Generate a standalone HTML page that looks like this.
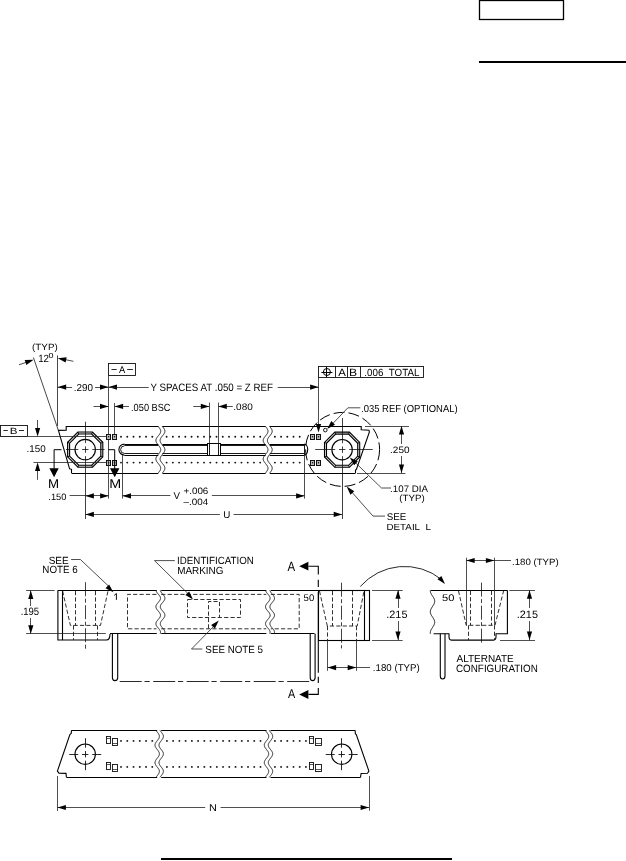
<!DOCTYPE html>
<html><head><meta charset="utf-8"><style>
html,body{margin:0;padding:0;background:#fff;}
body{width:626px;height:861px;overflow:hidden;}
svg{display:block;will-change:transform;}
text{font-family:"Liberation Sans",sans-serif;text-rendering:geometricPrecision;}
</style></head><body>
<svg width="626" height="861" viewBox="0 0 626 861">
<rect x="479.5" y="0.5" width="84" height="19" stroke="#000" stroke-width="1.3" fill="none"/>
<rect x="479" y="61" width="147" height="2" fill="#000"/>
<rect x="161" y="858" width="291" height="2" fill="#000"/>
<line x1="66.2" y1="426.5" x2="158.3" y2="426.5" stroke="#000" stroke-width="1.1" fill="none"/>
<line x1="162.5" y1="426.5" x2="265.6" y2="426.5" stroke="#000" stroke-width="1.1" fill="none"/>
<line x1="269.8" y1="426.5" x2="361.2" y2="426.5" stroke="#000" stroke-width="1.1" fill="none"/>
<line x1="71.5" y1="473.5" x2="158.3" y2="473.5" stroke="#000" stroke-width="1.1" fill="none"/>
<line x1="162.5" y1="473.5" x2="265.6" y2="473.5" stroke="#000" stroke-width="1.1" fill="none"/>
<line x1="269.8" y1="473.5" x2="355.5" y2="473.5" stroke="#000" stroke-width="1.1" fill="none"/>
<path d="M66.2,426.1 L66.2,430.2 L58.4,430.4 L69.6,468.8 L71.5,469.3 L71.5,473.1" stroke="#000" stroke-width="1.1" fill="none"/>
<path d="M361.2,426.1 L361.2,429.8 L369,430.2 L369.4,432 L356.4,469.4 L355.5,470 L355.5,473.1" stroke="#000" stroke-width="1.1" fill="none"/>
<path d="M157.89,426.1 L158.3,426.6 L158.71,427.1 L159.1,427.6 L159.47,428.1 L159.81,428.6 L160.1,429.1 L160.34,429.6 L160.53,430.1 L160.65,430.6 L160.7,431.1 L160.68,431.6 L160.59,432.1 L160.44,432.6 L160.23,433.1 L159.96,433.6 L159.64,434.1 L159.29,434.6 L158.9,435.1 L158.5,435.6 L158.1,436.1 L157.7,436.6 L157.31,437.1 L156.96,437.6 L156.64,438.1 L156.37,438.6 L156.16,439.1 L156.01,439.6 L155.92,440.1 L155.9,440.6 L155.95,441.1 L156.07,441.6 L156.26,442.1 L156.5,442.6 L156.79,443.1 L157.13,443.6 L157.5,444.1 L157.89,444.6 L158.3,445.1 L158.71,445.6 L159.1,446.1 L159.47,446.6 L159.81,447.1 L160.1,447.6 L160.34,448.1 L160.53,448.6 L160.65,449.1 L160.7,449.6 L160.68,450.1 L160.59,450.6 L160.44,451.1 L160.23,451.6 L159.96,452.1 L159.64,452.6 L159.29,453.1 L158.9,453.6 L158.5,454.1 L158.1,454.6 L157.7,455.1 L157.31,455.6 L156.96,456.1 L156.64,456.6 L156.37,457.1 L156.16,457.6 L156.01,458.1 L155.92,458.6 L155.9,459.1 L155.95,459.6 L156.07,460.1 L156.26,460.6 L156.5,461.1 L156.79,461.6 L157.13,462.1 L157.5,462.6 L157.89,463.1 L158.3,463.6 L158.71,464.1 L159.1,464.6 L159.47,465.1 L159.81,465.6 L160.1,466.1 L160.34,466.6 L160.53,467.1 L160.65,467.6 L160.7,468.1 L160.68,468.6 L160.59,469.1 L160.44,469.6 L160.23,470.1 L159.96,470.6 L159.64,471.1 L159.29,471.6 L158.9,472.1 L158.5,472.6 L158.1,473.1" stroke="#1a1a1a" stroke-width="0.95" fill="none"/>
<path d="M162.09,426.1 L162.5,426.6 L162.91,427.1 L163.3,427.6 L163.67,428.1 L164.01,428.6 L164.3,429.1 L164.54,429.6 L164.73,430.1 L164.85,430.6 L164.9,431.1 L164.88,431.6 L164.79,432.1 L164.64,432.6 L164.43,433.1 L164.16,433.6 L163.84,434.1 L163.49,434.6 L163.1,435.1 L162.7,435.6 L162.3,436.1 L161.9,436.6 L161.51,437.1 L161.16,437.6 L160.84,438.1 L160.57,438.6 L160.36,439.1 L160.21,439.6 L160.12,440.1 L160.1,440.6 L160.15,441.1 L160.27,441.6 L160.46,442.1 L160.7,442.6 L160.99,443.1 L161.33,443.6 L161.7,444.1 L162.09,444.6 L162.5,445.1 L162.91,445.6 L163.3,446.1 L163.67,446.6 L164.01,447.1 L164.3,447.6 L164.54,448.1 L164.73,448.6 L164.85,449.1 L164.9,449.6 L164.88,450.1 L164.79,450.6 L164.64,451.1 L164.43,451.6 L164.16,452.1 L163.84,452.6 L163.49,453.1 L163.1,453.6 L162.7,454.1 L162.3,454.6 L161.9,455.1 L161.51,455.6 L161.16,456.1 L160.84,456.6 L160.57,457.1 L160.36,457.6 L160.21,458.1 L160.12,458.6 L160.1,459.1 L160.15,459.6 L160.27,460.1 L160.46,460.6 L160.7,461.1 L160.99,461.6 L161.33,462.1 L161.7,462.6 L162.09,463.1 L162.5,463.6 L162.91,464.1 L163.3,464.6 L163.67,465.1 L164.01,465.6 L164.3,466.1 L164.54,466.6 L164.73,467.1 L164.85,467.6 L164.9,468.1 L164.88,468.6 L164.79,469.1 L164.64,469.6 L164.43,470.1 L164.16,470.6 L163.84,471.1 L163.49,471.6 L163.1,472.1 L162.7,472.6 L162.3,473.1" stroke="#1a1a1a" stroke-width="0.95" fill="none"/>
<path d="M265.19,426.1 L265.6,426.6 L266.01,427.1 L266.4,427.6 L266.77,428.1 L267.11,428.6 L267.4,429.1 L267.64,429.6 L267.83,430.1 L267.95,430.6 L268,431.1 L267.98,431.6 L267.89,432.1 L267.74,432.6 L267.53,433.1 L267.26,433.6 L266.94,434.1 L266.59,434.6 L266.2,435.1 L265.8,435.6 L265.4,436.1 L265,436.6 L264.61,437.1 L264.26,437.6 L263.94,438.1 L263.67,438.6 L263.46,439.1 L263.31,439.6 L263.22,440.1 L263.2,440.6 L263.25,441.1 L263.37,441.6 L263.56,442.1 L263.8,442.6 L264.09,443.1 L264.43,443.6 L264.8,444.1 L265.19,444.6 L265.6,445.1 L266.01,445.6 L266.4,446.1 L266.77,446.6 L267.11,447.1 L267.4,447.6 L267.64,448.1 L267.83,448.6 L267.95,449.1 L268,449.6 L267.98,450.1 L267.89,450.6 L267.74,451.1 L267.53,451.6 L267.26,452.1 L266.94,452.6 L266.59,453.1 L266.2,453.6 L265.8,454.1 L265.4,454.6 L265,455.1 L264.61,455.6 L264.26,456.1 L263.94,456.6 L263.67,457.1 L263.46,457.6 L263.31,458.1 L263.22,458.6 L263.2,459.1 L263.25,459.6 L263.37,460.1 L263.56,460.6 L263.8,461.1 L264.09,461.6 L264.43,462.1 L264.8,462.6 L265.19,463.1 L265.6,463.6 L266.01,464.1 L266.4,464.6 L266.77,465.1 L267.11,465.6 L267.4,466.1 L267.64,466.6 L267.83,467.1 L267.95,467.6 L268,468.1 L267.98,468.6 L267.89,469.1 L267.74,469.6 L267.53,470.1 L267.26,470.6 L266.94,471.1 L266.59,471.6 L266.2,472.1 L265.8,472.6 L265.4,473.1" stroke="#1a1a1a" stroke-width="0.95" fill="none"/>
<path d="M269.39,426.1 L269.8,426.6 L270.21,427.1 L270.6,427.6 L270.97,428.1 L271.31,428.6 L271.6,429.1 L271.84,429.6 L272.03,430.1 L272.15,430.6 L272.2,431.1 L272.18,431.6 L272.09,432.1 L271.94,432.6 L271.73,433.1 L271.46,433.6 L271.14,434.1 L270.79,434.6 L270.4,435.1 L270,435.6 L269.6,436.1 L269.2,436.6 L268.81,437.1 L268.46,437.6 L268.14,438.1 L267.87,438.6 L267.66,439.1 L267.51,439.6 L267.42,440.1 L267.4,440.6 L267.45,441.1 L267.57,441.6 L267.76,442.1 L268,442.6 L268.29,443.1 L268.63,443.6 L269,444.1 L269.39,444.6 L269.8,445.1 L270.21,445.6 L270.6,446.1 L270.97,446.6 L271.31,447.1 L271.6,447.6 L271.84,448.1 L272.03,448.6 L272.15,449.1 L272.2,449.6 L272.18,450.1 L272.09,450.6 L271.94,451.1 L271.73,451.6 L271.46,452.1 L271.14,452.6 L270.79,453.1 L270.4,453.6 L270,454.1 L269.6,454.6 L269.2,455.1 L268.81,455.6 L268.46,456.1 L268.14,456.6 L267.87,457.1 L267.66,457.6 L267.51,458.1 L267.42,458.6 L267.4,459.1 L267.45,459.6 L267.57,460.1 L267.76,460.6 L268,461.1 L268.29,461.6 L268.63,462.1 L269,462.6 L269.39,463.1 L269.8,463.6 L270.21,464.1 L270.6,464.6 L270.97,465.1 L271.31,465.6 L271.6,466.1 L271.84,466.6 L272.03,467.1 L272.15,467.6 L272.2,468.1 L272.18,468.6 L272.09,469.1 L271.94,469.6 L271.73,470.1 L271.46,470.6 L271.14,471.1 L270.79,471.6 L270.4,472.1 L270,472.6 L269.6,473.1" stroke="#1a1a1a" stroke-width="0.95" fill="none"/>
<path d="M102.8,456.89 L92.49,467.2 L77.91,467.2 L67.6,456.89 L67.6,442.31 L77.91,432 L92.49,432 L102.8,442.31Z M100.8,456.06 L91.66,465.2 L78.74,465.2 L69.6,456.06 L69.6,443.14 L78.74,434 L91.66,434 L100.8,443.14Z" fill="#d8d8d8" fill-rule="evenodd" stroke="none"/>
<path d="M102.8,456.89 L92.49,467.2 L77.91,467.2 L67.6,456.89 L67.6,442.31 L77.91,432 L92.49,432 L102.8,442.31Z" stroke="#000" stroke-width="1.1" fill="none"/>
<path d="M100.8,456.06 L91.66,465.2 L78.74,465.2 L69.6,456.06 L69.6,443.14 L78.74,434 L91.66,434 L100.8,443.14Z" stroke="#000" stroke-width="1.1" fill="none"/>
<line x1="102.8" y1="456.89" x2="100.8" y2="456.06" stroke="#000" stroke-width="0.9"/>
<line x1="92.49" y1="467.2" x2="91.66" y2="465.2" stroke="#000" stroke-width="0.9"/>
<line x1="77.91" y1="467.2" x2="78.74" y2="465.2" stroke="#000" stroke-width="0.9"/>
<line x1="67.6" y1="456.89" x2="69.6" y2="456.06" stroke="#000" stroke-width="0.9"/>
<line x1="67.6" y1="442.31" x2="69.6" y2="443.14" stroke="#000" stroke-width="0.9"/>
<line x1="77.91" y1="432" x2="78.74" y2="434" stroke="#000" stroke-width="0.9"/>
<line x1="92.49" y1="432" x2="91.66" y2="434" stroke="#000" stroke-width="0.9"/>
<line x1="102.8" y1="442.31" x2="100.8" y2="443.14" stroke="#000" stroke-width="0.9"/>
<circle cx="85.2" cy="449.6" r="10.2" stroke="#000" stroke-width="1.1" fill="none"/>
<path d="M359.7,456.99 L349.39,467.3 L334.81,467.3 L324.5,456.99 L324.5,442.41 L334.81,432.1 L349.39,432.1 L359.7,442.41Z M357.7,456.16 L348.56,465.3 L335.64,465.3 L326.5,456.16 L326.5,443.24 L335.64,434.1 L348.56,434.1 L357.7,443.24Z" fill="#d8d8d8" fill-rule="evenodd" stroke="none"/>
<path d="M359.7,456.99 L349.39,467.3 L334.81,467.3 L324.5,456.99 L324.5,442.41 L334.81,432.1 L349.39,432.1 L359.7,442.41Z" stroke="#000" stroke-width="1.1" fill="none"/>
<path d="M357.7,456.16 L348.56,465.3 L335.64,465.3 L326.5,456.16 L326.5,443.24 L335.64,434.1 L348.56,434.1 L357.7,443.24Z" stroke="#000" stroke-width="1.1" fill="none"/>
<line x1="359.7" y1="456.99" x2="357.7" y2="456.16" stroke="#000" stroke-width="0.9"/>
<line x1="349.39" y1="467.3" x2="348.56" y2="465.3" stroke="#000" stroke-width="0.9"/>
<line x1="334.81" y1="467.3" x2="335.64" y2="465.3" stroke="#000" stroke-width="0.9"/>
<line x1="324.5" y1="456.99" x2="326.5" y2="456.16" stroke="#000" stroke-width="0.9"/>
<line x1="324.5" y1="442.41" x2="326.5" y2="443.24" stroke="#000" stroke-width="0.9"/>
<line x1="334.81" y1="432.1" x2="335.64" y2="434.1" stroke="#000" stroke-width="0.9"/>
<line x1="349.39" y1="432.1" x2="348.56" y2="434.1" stroke="#000" stroke-width="0.9"/>
<line x1="359.7" y1="442.41" x2="357.7" y2="443.24" stroke="#000" stroke-width="0.9"/>
<circle cx="342.1" cy="449.7" r="10.2" stroke="#000" stroke-width="1.1" fill="none"/>
<line x1="85.5" y1="421.7" x2="85.5" y2="443.1" stroke="#111" stroke-width="0.8"/>
<line x1="85.5" y1="446.4" x2="85.5" y2="452.8" stroke="#111" stroke-width="0.8"/>
<line x1="85.5" y1="456.1" x2="85.5" y2="519" stroke="#111" stroke-width="0.8"/>
<line x1="66" y1="449.5" x2="78.3" y2="449.5" stroke="#111" stroke-width="0.8"/>
<line x1="82.1" y1="449.5" x2="88.5" y2="449.5" stroke="#111" stroke-width="0.8"/>
<line x1="92.3" y1="449.5" x2="104.6" y2="449.5" stroke="#111" stroke-width="0.8"/>
<line x1="342.5" y1="418" x2="342.5" y2="443.2" stroke="#111" stroke-width="0.8"/>
<line x1="342.5" y1="446.5" x2="342.5" y2="452.9" stroke="#111" stroke-width="0.8"/>
<line x1="342.5" y1="456.2" x2="342.5" y2="519" stroke="#111" stroke-width="0.8"/>
<line x1="315.2" y1="449.5" x2="335.2" y2="449.5" stroke="#111" stroke-width="0.8"/>
<line x1="339" y1="449.5" x2="345.4" y2="449.5" stroke="#111" stroke-width="0.8"/>
<line x1="349.2" y1="449.5" x2="372.7" y2="449.5" stroke="#111" stroke-width="0.8"/>
<line x1="124.4" y1="444.5" x2="158.3" y2="444.5" stroke="#000" stroke-width="1.1" fill="none"/>
<line x1="162.5" y1="444.5" x2="265.6" y2="444.5" stroke="#000" stroke-width="1.1" fill="none"/>
<line x1="269.8" y1="444.5" x2="304.4" y2="444.5" stroke="#000" stroke-width="1.1" fill="none"/>
<line x1="124.4" y1="455.5" x2="158.3" y2="455.5" stroke="#000" stroke-width="1.1" fill="none"/>
<line x1="162.5" y1="455.5" x2="265.6" y2="455.5" stroke="#000" stroke-width="1.1" fill="none"/>
<line x1="269.8" y1="455.5" x2="304.4" y2="455.5" stroke="#000" stroke-width="1.1" fill="none"/>
<line x1="124.4" y1="445.5" x2="158.3" y2="445.5" stroke="#000" stroke-width="0.9" fill="none"/>
<line x1="162.5" y1="445.5" x2="265.6" y2="445.5" stroke="#000" stroke-width="0.9" fill="none"/>
<line x1="269.8" y1="445.5" x2="304.4" y2="445.5" stroke="#000" stroke-width="0.9" fill="none"/>
<line x1="124.4" y1="453.5" x2="158.3" y2="453.5" stroke="#000" stroke-width="0.9" fill="none"/>
<line x1="162.5" y1="453.5" x2="265.6" y2="453.5" stroke="#000" stroke-width="0.9" fill="none"/>
<line x1="269.8" y1="453.5" x2="304.4" y2="453.5" stroke="#000" stroke-width="0.9" fill="none"/>
<path d="M124.4,444.1 A5.5,5.5 0 0 0 124.4,455.1" stroke="#000" stroke-width="1.1" fill="none"/>
<path d="M124.4,445.9 A3.75,3.75 0 0 0 124.4,453.4" stroke="#000" stroke-width="0.9" fill="none"/>
<path d="M304.4,444.1 A3.3,5.5 0 0 1 304.4,455.1" stroke="#000" stroke-width="1.1" fill="none"/>
<line x1="304.5" y1="444.1" x2="304.5" y2="455.1" stroke="#000" stroke-width="0.9"/>
<rect x="207.5" y="443.5" width="13" height="12" stroke="#000" stroke-width="1" fill="#fff"/>
<line x1="209.5" y1="443.9" x2="209.5" y2="455.2" stroke="#000" stroke-width="0.9"/>
<line x1="218.5" y1="443.9" x2="218.5" y2="455.2" stroke="#000" stroke-width="0.9"/>
<circle cx="121" cy="436.8" r="0.95" fill="#111"/>
<circle cx="127.26" cy="436.8" r="0.95" fill="#111"/>
<circle cx="133.52" cy="436.8" r="0.95" fill="#111"/>
<circle cx="139.78" cy="436.8" r="0.95" fill="#111"/>
<circle cx="146.04" cy="436.8" r="0.95" fill="#111"/>
<circle cx="152.3" cy="436.8" r="0.95" fill="#111"/>
<circle cx="166.6" cy="436.8" r="0.95" fill="#111"/>
<circle cx="172.84" cy="436.8" r="0.95" fill="#111"/>
<circle cx="179.08" cy="436.8" r="0.95" fill="#111"/>
<circle cx="185.32" cy="436.8" r="0.95" fill="#111"/>
<circle cx="191.56" cy="436.8" r="0.95" fill="#111"/>
<circle cx="197.8" cy="436.8" r="0.95" fill="#111"/>
<circle cx="204.04" cy="436.8" r="0.95" fill="#111"/>
<circle cx="210.28" cy="436.8" r="0.95" fill="#111"/>
<circle cx="216.52" cy="436.8" r="0.95" fill="#111"/>
<circle cx="222.76" cy="436.8" r="0.95" fill="#111"/>
<circle cx="229" cy="436.8" r="0.95" fill="#111"/>
<circle cx="235.24" cy="436.8" r="0.95" fill="#111"/>
<circle cx="241.48" cy="436.8" r="0.95" fill="#111"/>
<circle cx="247.72" cy="436.8" r="0.95" fill="#111"/>
<circle cx="253.96" cy="436.8" r="0.95" fill="#111"/>
<circle cx="260.2" cy="436.8" r="0.95" fill="#111"/>
<circle cx="274.9" cy="436.8" r="0.95" fill="#111"/>
<circle cx="281.1" cy="436.8" r="0.95" fill="#111"/>
<circle cx="287.3" cy="436.8" r="0.95" fill="#111"/>
<circle cx="293.5" cy="436.8" r="0.95" fill="#111"/>
<circle cx="299.7" cy="436.8" r="0.95" fill="#111"/>
<circle cx="121" cy="462.6" r="0.95" fill="#111"/>
<circle cx="127.26" cy="462.6" r="0.95" fill="#111"/>
<circle cx="133.52" cy="462.6" r="0.95" fill="#111"/>
<circle cx="139.78" cy="462.6" r="0.95" fill="#111"/>
<circle cx="146.04" cy="462.6" r="0.95" fill="#111"/>
<circle cx="152.3" cy="462.6" r="0.95" fill="#111"/>
<circle cx="166.6" cy="462.6" r="0.95" fill="#111"/>
<circle cx="172.84" cy="462.6" r="0.95" fill="#111"/>
<circle cx="179.08" cy="462.6" r="0.95" fill="#111"/>
<circle cx="185.32" cy="462.6" r="0.95" fill="#111"/>
<circle cx="191.56" cy="462.6" r="0.95" fill="#111"/>
<circle cx="197.8" cy="462.6" r="0.95" fill="#111"/>
<circle cx="204.04" cy="462.6" r="0.95" fill="#111"/>
<circle cx="210.28" cy="462.6" r="0.95" fill="#111"/>
<circle cx="216.52" cy="462.6" r="0.95" fill="#111"/>
<circle cx="222.76" cy="462.6" r="0.95" fill="#111"/>
<circle cx="229" cy="462.6" r="0.95" fill="#111"/>
<circle cx="235.24" cy="462.6" r="0.95" fill="#111"/>
<circle cx="241.48" cy="462.6" r="0.95" fill="#111"/>
<circle cx="247.72" cy="462.6" r="0.95" fill="#111"/>
<circle cx="253.96" cy="462.6" r="0.95" fill="#111"/>
<circle cx="260.2" cy="462.6" r="0.95" fill="#111"/>
<circle cx="274.9" cy="462.6" r="0.95" fill="#111"/>
<circle cx="281.1" cy="462.6" r="0.95" fill="#111"/>
<circle cx="287.3" cy="462.6" r="0.95" fill="#111"/>
<circle cx="293.5" cy="462.6" r="0.95" fill="#111"/>
<circle cx="299.7" cy="462.6" r="0.95" fill="#111"/>
<rect x="106.5" y="434.5" width="4" height="5" stroke="#111" stroke-width="1" fill="#bbb"/>
<circle cx="108.6" cy="436.8" r="0.75" fill="#111"/>
<rect x="112.5" y="434.5" width="4" height="5" stroke="#111" stroke-width="1" fill="#bbb"/>
<circle cx="114.5" cy="436.8" r="0.75" fill="#111"/>
<rect x="106.5" y="460.5" width="4" height="5" stroke="#111" stroke-width="1" fill="#bbb"/>
<circle cx="108.6" cy="462.8" r="0.75" fill="#111"/>
<rect x="112.5" y="460.5" width="4" height="5" stroke="#111" stroke-width="1" fill="#bbb"/>
<circle cx="114.5" cy="462.8" r="0.75" fill="#111"/>
<rect x="310.5" y="434.5" width="4" height="5" stroke="#111" stroke-width="1" fill="#bbb"/>
<circle cx="312.6" cy="436.8" r="0.75" fill="#111"/>
<rect x="316.5" y="434.5" width="4" height="5" stroke="#111" stroke-width="1" fill="#bbb"/>
<circle cx="318.5" cy="436.8" r="0.75" fill="#111"/>
<rect x="310.5" y="460.5" width="4" height="5" stroke="#111" stroke-width="1" fill="#bbb"/>
<circle cx="312.6" cy="462.8" r="0.75" fill="#111"/>
<rect x="316.5" y="460.5" width="4" height="5" stroke="#111" stroke-width="1" fill="#bbb"/>
<circle cx="318.5" cy="462.8" r="0.75" fill="#111"/>
<circle cx="325.3" cy="430.1" r="1.8" stroke="#000" stroke-width="0.9" fill="none"/>
<circle cx="342.6" cy="449.4" r="37" stroke="#000" stroke-width="1" fill="none" stroke-dasharray="11,4"/>
<rect x="0.5" y="425.5" width="27" height="11" stroke="#111" stroke-width="0.9" fill="none"/>
<line x1="3.4" y1="430.5" x2="7.8" y2="430.5" stroke="#111" stroke-width="0.9"/>
<line x1="19" y1="430.5" x2="24" y2="430.5" stroke="#111" stroke-width="0.9"/>
<text x="9.67" y="434.1" font-size="8.99" textLength="7.73" lengthAdjust="spacingAndGlyphs" fill="#000">B</text>
<line x1="27.7" y1="436.5" x2="106.3" y2="436.5" stroke="#222" stroke-width="0.8" fill="none"/>
<line x1="33.5" y1="462.5" x2="106.3" y2="462.5" stroke="#222" stroke-width="0.8" fill="none"/>
<line x1="37.5" y1="420" x2="37.5" y2="430" stroke="#222" stroke-width="0.8" fill="none"/>
<path d="M37.6,436.6 L35,428.1 L40.2,428.1Z" fill="#000"/>
<line x1="37.5" y1="479.8" x2="37.5" y2="470" stroke="#222" stroke-width="0.8" fill="none"/>
<path d="M37.6,462.6 L40.2,471.1 L35,471.1Z" fill="#000"/>
<text x="26.51" y="451.9" font-size="9.71" textLength="19.14" lengthAdjust="spacingAndGlyphs" fill="#000">.150</text>
<path d="M61.5,449.7 L54.1,449.7 L54.1,469" stroke="#000" stroke-width="1" fill="none"/>
<path d="M49.4,468.2 L58.7,468.2 L54.1,477.2Z" fill="#000"/>
<text x="48.14" y="487.6" font-size="12.9" textLength="11.07" lengthAdjust="spacingAndGlyphs" fill="#000">M</text>
<path d="M108.3,449.7 L114.7,449.7 L114.7,469" stroke="#000" stroke-width="1" fill="none"/>
<path d="M110,468.2 L119.4,468.2 L114.7,477.2Z" fill="#000"/>
<text x="109.15" y="487.6" font-size="12.9" textLength="11.94" lengthAdjust="spacingAndGlyphs" fill="#000">M</text>
<line x1="108.5" y1="439.5" x2="108.5" y2="498.6" stroke="#222" stroke-width="0.8" fill="none"/>
<line x1="122.5" y1="455.1" x2="122.5" y2="498.6" stroke="#222" stroke-width="0.8" fill="none"/>
<line x1="69.6" y1="495.5" x2="108.6" y2="495.5" stroke="#222" stroke-width="0.8" fill="none"/>
<path d="M85.4,495.9 L93.9,493.3 L93.9,498.5Z" fill="#000"/>
<path d="M108.6,495.9 L100.1,498.5 L100.1,493.3Z" fill="#000"/>
<text x="48.37" y="499.6" font-size="9.28" textLength="17.97" lengthAdjust="spacingAndGlyphs" fill="#000">.150</text>
<line x1="122.5" y1="495.5" x2="170.4" y2="495.5" stroke="#222" stroke-width="0.8" fill="none"/>
<path d="M122.5,495.9 L131,493.3 L131,498.5Z" fill="#000"/>
<line x1="211.9" y1="495.5" x2="304.6" y2="495.5" stroke="#222" stroke-width="0.8" fill="none"/>
<path d="M304.6,495.9 L296.1,498.5 L296.1,493.3Z" fill="#000"/>
<line x1="304.5" y1="455.1" x2="304.5" y2="498.6" stroke="#222" stroke-width="0.8" fill="none"/>
<text x="173.55" y="499.2" font-size="9.71" textLength="6.52" lengthAdjust="spacingAndGlyphs" fill="#000">V</text>
<text x="183.51" y="493.6" font-size="9.28" textLength="24.78" lengthAdjust="spacingAndGlyphs" fill="#000">+.006</text>
<text x="183.6" y="504.8" font-size="9.28" textLength="24.62" lengthAdjust="spacingAndGlyphs" fill="#000">&#8211;.004</text>
<line x1="85.4" y1="514.5" x2="219.9" y2="514.5" stroke="#222" stroke-width="0.8" fill="none"/>
<path d="M85.4,514.4 L93.9,511.8 L93.9,517Z" fill="#000"/>
<line x1="233.5" y1="514.5" x2="342.2" y2="514.5" stroke="#222" stroke-width="0.8" fill="none"/>
<path d="M342.2,514.4 L333.7,517 L333.7,511.8Z" fill="#000"/>
<text x="223.16" y="518" font-size="9.86" textLength="7.1" lengthAdjust="spacingAndGlyphs" fill="#000">U</text>
<line x1="19" y1="364.8" x2="30" y2="361" stroke="#222" stroke-width="0.8" fill="none"/>
<path d="M33.6,359.8 L26.34,364.92 L24.71,359.98Z" fill="#000"/>
<line x1="33.4" y1="357.5" x2="58.4" y2="430.4" stroke="#333" stroke-width="0.9"/>
<line x1="57.5" y1="355.4" x2="57.5" y2="426.1" stroke="#333" stroke-width="0.9"/>
<line x1="73.4" y1="361.3" x2="64" y2="359.4" stroke="#222" stroke-width="0.8" fill="none"/>
<path d="M57.8,358.2 L66.64,357.31 L65.63,362.41Z" fill="#000"/>
<text x="32.11" y="350.3" font-size="9.13" textLength="25.59" lengthAdjust="spacingAndGlyphs" fill="#000">(TYP)</text>
<text x="38.17" y="361.6" font-size="10.43" textLength="10.84" lengthAdjust="spacingAndGlyphs" fill="#000">12</text>
<text x="48.64" y="358.2" font-size="7.34" textLength="4.98" lengthAdjust="spacingAndGlyphs" fill="#000">0</text>
<line x1="57.7" y1="387.5" x2="72" y2="387.5" stroke="#222" stroke-width="0.8" fill="none"/>
<path d="M57.7,387.1 L66.2,384.5 L66.2,389.7Z" fill="#000"/>
<text x="73.81" y="391" font-size="10.17" textLength="19.25" lengthAdjust="spacingAndGlyphs" fill="#000">.290</text>
<line x1="95.1" y1="387.5" x2="108.5" y2="387.5" stroke="#222" stroke-width="0.8" fill="none"/>
<path d="M108.5,387.1 L100,389.7 L100,384.5Z" fill="#000"/>
<path d="M108.5,387.1 L117,384.5 L117,389.7Z" fill="#000"/>
<line x1="108.5" y1="387.5" x2="148.7" y2="387.5" stroke="#222" stroke-width="0.8" fill="none"/>
<text x="150.56" y="391.2" font-size="10.72" textLength="122.44" lengthAdjust="spacingAndGlyphs" fill="#000">Y SPACES AT .050 = Z REF</text>
<line x1="277.7" y1="387.5" x2="318.6" y2="387.5" stroke="#222" stroke-width="0.8" fill="none"/>
<path d="M318.6,387.1 L310.1,389.7 L310.1,384.5Z" fill="#000"/>
<rect x="108.5" y="363.5" width="27" height="12" stroke="#111" stroke-width="0.9" fill="none"/>
<line x1="111.5" y1="369.5" x2="116.7" y2="369.5" stroke="#111" stroke-width="0.9"/>
<line x1="127.2" y1="369.5" x2="132.9" y2="369.5" stroke="#111" stroke-width="0.9"/>
<text x="119" y="373" font-size="9.71" textLength="6.22" lengthAdjust="spacingAndGlyphs" fill="#000">A</text>
<line x1="108.5" y1="375.4" x2="108.5" y2="434.3" stroke="#222" stroke-width="0.8" fill="none"/>
<line x1="93.5" y1="406.5" x2="108.5" y2="406.5" stroke="#222" stroke-width="0.8" fill="none"/>
<path d="M108.5,406.4 L100,409 L100,403.8Z" fill="#000"/>
<line x1="114.5" y1="403" x2="114.5" y2="434.3" stroke="#222" stroke-width="0.8" fill="none"/>
<line x1="114.6" y1="406.5" x2="129" y2="406.5" stroke="#222" stroke-width="0.8" fill="none"/>
<path d="M114.6,406.4 L123.1,403.8 L123.1,409Z" fill="#000"/>
<text x="131.07" y="410.7" font-size="10.29" textLength="39.46" lengthAdjust="spacingAndGlyphs" fill="#000">.050 BSC</text>
<line x1="209.5" y1="402.6" x2="209.5" y2="443.9" stroke="#222" stroke-width="0.8" fill="none"/>
<line x1="218.5" y1="402.6" x2="218.5" y2="443.9" stroke="#222" stroke-width="0.8" fill="none"/>
<line x1="193.3" y1="406.5" x2="209.3" y2="406.5" stroke="#222" stroke-width="0.8" fill="none"/>
<path d="M209.3,406.4 L200.8,409 L200.8,403.8Z" fill="#000"/>
<line x1="218.3" y1="406.5" x2="232.8" y2="406.5" stroke="#222" stroke-width="0.8" fill="none"/>
<path d="M218.3,406.4 L226.8,403.8 L226.8,409Z" fill="#000"/>
<text x="233.3" y="409.7" font-size="9.46" textLength="19.46" lengthAdjust="spacingAndGlyphs" fill="#000">.080</text>
<rect x="318.5" y="366.5" width="105" height="11" stroke="#111" stroke-width="0.9" fill="none"/>
<line x1="335.5" y1="366.4" x2="335.5" y2="377.3" stroke="#111" stroke-width="0.9"/>
<line x1="347.5" y1="366.4" x2="347.5" y2="377.3" stroke="#111" stroke-width="0.9"/>
<line x1="360.5" y1="366.4" x2="360.5" y2="377.3" stroke="#111" stroke-width="0.9"/>
<circle cx="326.9" cy="372" r="3.5" stroke="#000" stroke-width="1" fill="none"/>
<line x1="321.4" y1="372.5" x2="332.4" y2="372.5" stroke="#000" stroke-width="1"/>
<line x1="326.5" y1="366.8" x2="326.5" y2="377.2" stroke="#000" stroke-width="1"/>
<text x="338.2" y="375.7" font-size="10.43" textLength="7.62" lengthAdjust="spacingAndGlyphs" fill="#000">A</text>
<text x="349.13" y="375.7" font-size="10.43" textLength="8.1" lengthAdjust="spacingAndGlyphs" fill="#000">B</text>
<text x="364.32" y="375.7" font-size="10.43" textLength="55.07" lengthAdjust="spacingAndGlyphs" fill="#000">.006&#160;&#160;TOTAL</text>
<line x1="318.5" y1="377.3" x2="318.5" y2="428" stroke="#222" stroke-width="0.8" fill="none"/>
<path d="M318.5,432.5 L315.9,424 L321.1,424Z" fill="#000"/>
<path d="M360.3,407.8 L347.9,407.8 L330,426.5" stroke="#222" stroke-width="0.8" fill="none"/>
<path d="M327.2,429 L331.3,421.11 L335.01,424.75Z" fill="#000"/>
<text x="361.15" y="411.7" font-size="10.14" textLength="96.46" lengthAdjust="spacingAndGlyphs" fill="#000">.035 REF (OPTIONAL)</text>
<line x1="365" y1="426.5" x2="409" y2="426.5" stroke="#222" stroke-width="0.8" fill="none"/>
<line x1="357" y1="473.5" x2="405.4" y2="473.5" stroke="#222" stroke-width="0.8" fill="none"/>
<line x1="401.5" y1="426.1" x2="401.5" y2="444" stroke="#222" stroke-width="0.8" fill="none"/>
<path d="M401.5,426.1 L404.1,434.6 L398.9,434.6Z" fill="#000"/>
<line x1="401.5" y1="456" x2="401.5" y2="473.1" stroke="#222" stroke-width="0.8" fill="none"/>
<path d="M401.5,473.1 L398.9,464.6 L404.1,464.6Z" fill="#000"/>
<text x="390.1" y="453.2" font-size="9.32" textLength="19.46" lengthAdjust="spacingAndGlyphs" fill="#000">.250</text>
<path d="M391,488 L381.5,488 L353,460.3" stroke="#222" stroke-width="0.8" fill="none"/>
<path d="M349.8,457.4 L357.72,461.43 L354.11,465.17Z" fill="#000"/>
<text x="390.12" y="491.8" font-size="9.57" textLength="37.89" lengthAdjust="spacingAndGlyphs" fill="#000">.107 DIA</text>
<text x="399.32" y="501.2" font-size="9.13" textLength="25.38" lengthAdjust="spacingAndGlyphs" fill="#000">(TYP)</text>
<path d="M385,516.1 L373,516.1 L350,490" stroke="#222" stroke-width="0.8" fill="none"/>
<path d="M346.7,486.6 L354.3,491.21 L350.42,494.67Z" fill="#000"/>
<text x="386.76" y="520" font-size="9.71" textLength="19.54" lengthAdjust="spacingAndGlyphs" fill="#000">SEE</text>
<text x="386.41" y="529.9" font-size="8.84" textLength="44.61" lengthAdjust="spacingAndGlyphs" fill="#000">DETAIL&#160;&#160;L</text>
<line x1="57.9" y1="590.5" x2="156.8" y2="590.5" stroke="#000" stroke-width="1.1" fill="none"/>
<line x1="161.2" y1="590.5" x2="266.4" y2="590.5" stroke="#000" stroke-width="1.1" fill="none"/>
<line x1="270.8" y1="590.5" x2="318.3" y2="590.5" stroke="#000" stroke-width="1.1" fill="none"/>
<line x1="110" y1="633.5" x2="156.8" y2="633.5" stroke="#000" stroke-width="1.1" fill="none"/>
<line x1="161.2" y1="633.5" x2="266.4" y2="633.5" stroke="#000" stroke-width="1.1" fill="none"/>
<line x1="270.8" y1="633.5" x2="314.5" y2="633.5" stroke="#000" stroke-width="1.1" fill="none"/>
<path d="M57.9,590.3 V640 H106.5 Q110,640 110,634" stroke="#000" stroke-width="1.1" fill="none"/>
<line x1="62.5" y1="590.3" x2="62.5" y2="640" stroke="#000" stroke-width="1.1" fill="none"/>
<path d="M155.95,590.3 L156.07,590.81 L156.27,591.31 L156.54,591.82 L156.86,592.32 L157.24,592.83 L157.64,593.33 L158.06,593.84 L158.49,594.35 L158.91,594.85 L159.31,595.36 L159.66,595.86 L159.97,596.37 L160.21,596.88 L160.38,597.38 L160.48,597.89 L160.5,598.39 L160.43,598.9 L160.29,599.4 L160.08,599.91 L159.8,600.42 L159.47,600.92 L159.09,601.43 L158.68,601.93 L158.25,602.44 L157.82,602.95 L157.41,603.45 L157.02,603.96 L156.67,604.46 L156.38,604.97 L156.15,605.47 L155.99,605.98 L155.91,606.49 L155.91,606.99 L155.99,607.5 L156.14,608 L156.37,608.51 L156.66,609.02 L157,609.52 L157.39,610.03 L157.8,610.53 L158.23,611.04 L158.66,611.54 L159.07,612.05 L159.45,612.56 L159.79,613.06 L160.07,613.57 L160.29,614.07 L160.43,614.58 L160.5,615.08 L160.48,615.59 L160.39,616.1 L160.22,616.6 L159.98,617.11 L159.68,617.61 L159.32,618.12 L158.93,618.63 L158.51,619.13 L158.08,619.64 L157.66,620.14 L157.25,620.65 L156.88,621.15 L156.55,621.66 L156.28,622.17 L156.08,622.67 L155.95,623.18 L155.9,623.68 L155.93,624.19 L156.04,624.7 L156.22,625.2 L156.48,625.71 L156.79,626.21 L157.15,626.72 L157.55,627.22 L157.97,627.73 L158.4,628.24 L158.82,628.74 L159.22,629.25 L159.59,629.75 L159.91,630.26 L160.16,630.77 L160.35,631.27 L160.46,631.78 L160.5,632.28 L160.45,632.79 L160.33,633.29 L160.13,633.8" stroke="#1a1a1a" stroke-width="0.95" fill="none"/>
<path d="M160.35,590.3 L160.47,590.81 L160.67,591.31 L160.94,591.82 L161.26,592.32 L161.64,592.83 L162.04,593.33 L162.46,593.84 L162.89,594.35 L163.31,594.85 L163.71,595.36 L164.06,595.86 L164.37,596.37 L164.61,596.88 L164.78,597.38 L164.88,597.89 L164.9,598.39 L164.83,598.9 L164.69,599.4 L164.48,599.91 L164.2,600.42 L163.87,600.92 L163.49,601.43 L163.08,601.93 L162.65,602.44 L162.22,602.95 L161.81,603.45 L161.42,603.96 L161.07,604.46 L160.78,604.97 L160.55,605.47 L160.39,605.98 L160.31,606.49 L160.31,606.99 L160.39,607.5 L160.54,608 L160.77,608.51 L161.06,609.02 L161.4,609.52 L161.79,610.03 L162.2,610.53 L162.63,611.04 L163.06,611.54 L163.47,612.05 L163.85,612.56 L164.19,613.06 L164.47,613.57 L164.69,614.07 L164.83,614.58 L164.9,615.08 L164.88,615.59 L164.79,616.1 L164.62,616.6 L164.38,617.11 L164.08,617.61 L163.72,618.12 L163.33,618.63 L162.91,619.13 L162.48,619.64 L162.06,620.14 L161.65,620.65 L161.28,621.15 L160.95,621.66 L160.68,622.17 L160.48,622.67 L160.35,623.18 L160.3,623.68 L160.33,624.19 L160.44,624.7 L160.62,625.2 L160.88,625.71 L161.19,626.21 L161.55,626.72 L161.95,627.22 L162.37,627.73 L162.8,628.24 L163.22,628.74 L163.62,629.25 L163.99,629.75 L164.31,630.26 L164.56,630.77 L164.75,631.27 L164.86,631.78 L164.9,632.28 L164.85,632.79 L164.73,633.29 L164.53,633.8" stroke="#1a1a1a" stroke-width="0.95" fill="none"/>
<path d="M265.55,590.3 L265.67,590.81 L265.87,591.31 L266.14,591.82 L266.46,592.32 L266.84,592.83 L267.24,593.33 L267.66,593.84 L268.09,594.35 L268.51,594.85 L268.91,595.36 L269.26,595.86 L269.57,596.37 L269.81,596.88 L269.98,597.38 L270.08,597.89 L270.1,598.39 L270.03,598.9 L269.89,599.4 L269.68,599.91 L269.4,600.42 L269.07,600.92 L268.69,601.43 L268.28,601.93 L267.85,602.44 L267.42,602.95 L267.01,603.45 L266.62,603.96 L266.27,604.46 L265.98,604.97 L265.75,605.47 L265.59,605.98 L265.51,606.49 L265.51,606.99 L265.59,607.5 L265.74,608 L265.97,608.51 L266.26,609.02 L266.6,609.52 L266.99,610.03 L267.4,610.53 L267.83,611.04 L268.26,611.54 L268.67,612.05 L269.05,612.56 L269.39,613.06 L269.67,613.57 L269.89,614.07 L270.03,614.58 L270.1,615.08 L270.08,615.59 L269.99,616.1 L269.82,616.6 L269.58,617.11 L269.28,617.61 L268.92,618.12 L268.53,618.63 L268.11,619.13 L267.68,619.64 L267.26,620.14 L266.85,620.65 L266.48,621.15 L266.15,621.66 L265.88,622.17 L265.68,622.67 L265.55,623.18 L265.5,623.68 L265.53,624.19 L265.64,624.7 L265.82,625.2 L266.08,625.71 L266.39,626.21 L266.75,626.72 L267.15,627.22 L267.57,627.73 L268,628.24 L268.42,628.74 L268.82,629.25 L269.19,629.75 L269.51,630.26 L269.76,630.77 L269.95,631.27 L270.06,631.78 L270.1,632.28 L270.05,632.79 L269.93,633.29 L269.73,633.8" stroke="#1a1a1a" stroke-width="0.95" fill="none"/>
<path d="M269.95,590.3 L270.07,590.81 L270.27,591.31 L270.54,591.82 L270.86,592.32 L271.24,592.83 L271.64,593.33 L272.06,593.84 L272.49,594.35 L272.91,594.85 L273.31,595.36 L273.66,595.86 L273.97,596.37 L274.21,596.88 L274.38,597.38 L274.48,597.89 L274.5,598.39 L274.43,598.9 L274.29,599.4 L274.08,599.91 L273.8,600.42 L273.47,600.92 L273.09,601.43 L272.68,601.93 L272.25,602.44 L271.82,602.95 L271.41,603.45 L271.02,603.96 L270.67,604.46 L270.38,604.97 L270.15,605.47 L269.99,605.98 L269.91,606.49 L269.91,606.99 L269.99,607.5 L270.14,608 L270.37,608.51 L270.66,609.02 L271,609.52 L271.39,610.03 L271.8,610.53 L272.23,611.04 L272.66,611.54 L273.07,612.05 L273.45,612.56 L273.79,613.06 L274.07,613.57 L274.29,614.07 L274.43,614.58 L274.5,615.08 L274.48,615.59 L274.39,616.1 L274.22,616.6 L273.98,617.11 L273.68,617.61 L273.32,618.12 L272.93,618.63 L272.51,619.13 L272.08,619.64 L271.66,620.14 L271.25,620.65 L270.88,621.15 L270.55,621.66 L270.28,622.17 L270.08,622.67 L269.95,623.18 L269.9,623.68 L269.93,624.19 L270.04,624.7 L270.22,625.2 L270.48,625.71 L270.79,626.21 L271.15,626.72 L271.55,627.22 L271.97,627.73 L272.4,628.24 L272.82,628.74 L273.22,629.25 L273.59,629.75 L273.91,630.26 L274.16,630.77 L274.35,631.27 L274.46,631.78 L274.5,632.28 L274.45,632.79 L274.33,633.29 L274.13,633.8" stroke="#1a1a1a" stroke-width="0.95" fill="none"/>
<path d="M112.4,634 V677.5 Q112.4,680.6 115,680.6 Q117.7,680.6 117.7,677.5 V634" stroke="#000" stroke-width="1.1" fill="none"/>
<path d="M310.2,633.8 V677.5 Q310.2,680.6 312.7,680.6 Q315.1,680.6 315.1,677.5 V633.8" stroke="#000" stroke-width="1.1" fill="none"/>
<line x1="119.7" y1="681.5" x2="310" y2="681.5" stroke="#111" stroke-width="0.9" fill="none" stroke-dasharray="22,2.8,5.2,3.5"/>
<path d="M156.5,594.4 H127.5 V628.8 H156.5" stroke="#1a1a1a" stroke-width="0.9" fill="none" stroke-dasharray="4.2,2.2"/>
<path d="M161.2,594.4 H266.2 M161.2,628.8 H266.2" stroke="#1a1a1a" stroke-width="0.9" fill="none" stroke-dasharray="4.2,2.2"/>
<path d="M270.8,594.4 H299.2 V628.8 H270.8" stroke="#1a1a1a" stroke-width="0.9" fill="none" stroke-dasharray="4.2,2.2"/>
<rect x="187.5" y="599.5" width="53" height="18" stroke="#1a1a1a" stroke-width="0.9" fill="none" stroke-dasharray="4.2,2.2"/>
<path d="M208.5,628.5 V601.5 H219.5 V617" stroke="#1a1a1a" stroke-width="0.9" fill="none" stroke-dasharray="4.2,2.2"/>
<path d="M62.6,591 L70.4,625.4 L100.5,625.4 L108,591" stroke="#1a1a1a" stroke-width="0.9" fill="none" stroke-dasharray="4.2,2.2"/>
<line x1="75.5" y1="591" x2="75.5" y2="625.4" stroke="#1a1a1a" stroke-width="0.9" fill="none" stroke-dasharray="4.2,2.2"/>
<line x1="95.5" y1="591" x2="95.5" y2="625.4" stroke="#1a1a1a" stroke-width="0.9" fill="none" stroke-dasharray="4.2,2.2"/>
<line x1="73.5" y1="625.4" x2="73.5" y2="640" stroke="#1a1a1a" stroke-width="0.9" fill="none" stroke-dasharray="4.2,2.2"/>
<line x1="97.5" y1="625.4" x2="97.5" y2="640" stroke="#1a1a1a" stroke-width="0.9" fill="none" stroke-dasharray="4.2,2.2"/>
<line x1="85.5" y1="582.2" x2="85.5" y2="649.6" stroke="#111" stroke-width="0.8" stroke-dasharray="14,2.5,4,2.5"/>
<path d="M114.2,595.4 L116.4,593.5 V599.9" stroke="#000" stroke-width="0.95" fill="none"/>
<text x="303.62" y="600.9" font-size="9.6" textLength="10.64" lengthAdjust="spacingAndGlyphs" fill="#000">50</text>
<line x1="26.1" y1="590.5" x2="54.6" y2="590.5" stroke="#222" stroke-width="0.8" fill="none"/>
<line x1="26.1" y1="633.5" x2="105.8" y2="633.5" stroke="#222" stroke-width="0.8" fill="none"/>
<line x1="30.5" y1="590.4" x2="30.5" y2="606" stroke="#222" stroke-width="0.8" fill="none"/>
<path d="M30.8,590.4 L33.4,598.9 L28.2,598.9Z" fill="#000"/>
<line x1="30.5" y1="618" x2="30.5" y2="633.8" stroke="#222" stroke-width="0.8" fill="none"/>
<path d="M30.8,633.8 L28.2,625.3 L33.4,625.3Z" fill="#000"/>
<text x="20.64" y="615.3" font-size="10.73" textLength="18.55" lengthAdjust="spacingAndGlyphs" fill="#000">.195</text>
<text x="48.65" y="563.5" font-size="10.43" textLength="19.96" lengthAdjust="spacingAndGlyphs" fill="#000">SEE</text>
<text x="42.32" y="573.2" font-size="10.43" textLength="35.39" lengthAdjust="spacingAndGlyphs" fill="#000">NOTE 6</text>
<path d="M71.1,559.5 L80.4,559.5 L108,585.6" stroke="#222" stroke-width="0.8" fill="none"/>
<path d="M113.4,592.3 L105.49,588.25 L109.1,584.52Z" fill="#000"/>
<text x="177.12" y="564.4" font-size="10.43" textLength="76.76" lengthAdjust="spacingAndGlyphs" fill="#000">IDENTIFICATION</text>
<text x="177.21" y="573.6" font-size="10.29" textLength="46.21" lengthAdjust="spacingAndGlyphs" fill="#000">MARKING</text>
<path d="M174.8,560.6 L154.5,560.6 L189,594.6" stroke="#222" stroke-width="0.8" fill="none"/>
<path d="M193,599.5 L185.37,594.94 L189.23,591.45Z" fill="#000"/>
<text x="205.36" y="652.7" font-size="10.43" textLength="57.64" lengthAdjust="spacingAndGlyphs" fill="#000">SEE NOTE 5</text>
<path d="M202.3,649 L191.5,649 L215,625" stroke="#222" stroke-width="0.8" fill="none"/>
<path d="M218.8,620.6 L214.91,628.59 L211.11,625.05Z" fill="#000"/>
<path d="M308.4,566.3 H318.3 V574.6 M318.3,579.8 V587 M318.3,592 V672.7 M318.3,676.7 V683.1 M318.3,688 V694.4 H308.4" stroke="#000" stroke-width="1.1" fill="none"/>
<path d="M299.2,566.2 L308.4,561.8 L308.4,570.6Z" fill="#000"/>
<path d="M299.2,694.5 L308.4,690.1 L308.4,698.9Z" fill="#000"/>
<text x="287.6" y="570.6" font-size="13.33" textLength="7.62" lengthAdjust="spacingAndGlyphs" fill="#000">A</text>
<text x="288" y="698.3" font-size="12.75" textLength="7.22" lengthAdjust="spacingAndGlyphs" fill="#000">A</text>
<rect x="318.5" y="590.5" width="51" height="50" stroke="#000" stroke-width="1.1" fill="none"/>
<line x1="364.5" y1="590.3" x2="364.5" y2="640" stroke="#000" stroke-width="1.1" fill="none"/>
<path d="M319.5,591 L327.3,626 L357.2,626 L364,591" stroke="#1a1a1a" stroke-width="0.9" fill="none" stroke-dasharray="4.2,2.2"/>
<line x1="332.5" y1="591" x2="332.5" y2="626" stroke="#1a1a1a" stroke-width="0.9" fill="none" stroke-dasharray="4.2,2.2"/>
<line x1="352.5" y1="591" x2="352.5" y2="626" stroke="#1a1a1a" stroke-width="0.9" fill="none" stroke-dasharray="4.2,2.2"/>
<line x1="327.5" y1="626" x2="327.5" y2="640" stroke="#1a1a1a" stroke-width="0.9" fill="none" stroke-dasharray="4.2,2.2"/>
<line x1="356.5" y1="626" x2="356.5" y2="640" stroke="#1a1a1a" stroke-width="0.9" fill="none" stroke-dasharray="4.2,2.2"/>
<line x1="327.5" y1="640" x2="327.5" y2="670.8" stroke="#222" stroke-width="0.8" fill="none"/>
<line x1="356.5" y1="640" x2="356.5" y2="670.8" stroke="#222" stroke-width="0.8" fill="none"/>
<line x1="341.5" y1="582.7" x2="341.5" y2="648.4" stroke="#111" stroke-width="0.8" stroke-dasharray="14,2.5,4,2.5"/>
<line x1="372" y1="590.5" x2="402.7" y2="590.5" stroke="#222" stroke-width="0.8" fill="none"/>
<line x1="372" y1="640.5" x2="402.7" y2="640.5" stroke="#222" stroke-width="0.8" fill="none"/>
<line x1="398.5" y1="590.3" x2="398.5" y2="608" stroke="#222" stroke-width="0.8" fill="none"/>
<path d="M398,590.3 L400.6,598.8 L395.4,598.8Z" fill="#000"/>
<line x1="398.5" y1="621" x2="398.5" y2="640" stroke="#222" stroke-width="0.8" fill="none"/>
<path d="M398,640 L395.4,631.5 L400.6,631.5Z" fill="#000"/>
<text x="386.32" y="618.3" font-size="10.73" textLength="21.13" lengthAdjust="spacingAndGlyphs" fill="#000">.215</text>
<line x1="327.6" y1="667.5" x2="370" y2="667.5" stroke="#222" stroke-width="0.8" fill="none"/>
<path d="M327.6,667.6 L336.1,665 L336.1,670.2Z" fill="#000"/>
<path d="M356.2,667.6 L347.7,670.2 L347.7,665Z" fill="#000"/>
<text x="372.82" y="670.5" font-size="9.89" textLength="47.01" lengthAdjust="spacingAndGlyphs" fill="#000">.180 (TYP)</text>
<path d="M360.3,586.5 A58.8,58.8 0 0 1 441.5,579.5" stroke="#111" stroke-width="0.9" fill="none"/>
<path d="M445,584 L437.46,579.29 L441.38,575.88Z" fill="#000"/>
<path d="M507.4,590.3 V633.8 H496 V637 Q496,640.1 493,640.1 H452 Q449,640.1 449,637 V633.8 H433.6" stroke="#000" stroke-width="1.1" fill="none"/>
<line x1="430.8" y1="590.5" x2="507.4" y2="590.5" stroke="#000" stroke-width="1.1" fill="none"/>
<path d="M430.32,590.3 L430.3,590.81 L430.33,591.31 L430.41,591.82 L430.54,592.32 L430.71,592.83 L430.93,593.33 L431.18,593.84 L431.46,594.35 L431.76,594.85 L432.08,595.36 L432.41,595.86 L432.74,596.37 L433.07,596.88 L433.38,597.38 L433.68,597.89 L433.94,598.39 L434.18,598.9 L434.37,599.4 L434.53,599.91 L434.63,600.42 L434.69,600.92 L434.7,601.43 L434.65,601.93 L434.56,602.44 L434.42,602.95 L434.24,603.45 L434.02,603.96 L433.76,604.46 L433.47,604.97 L433.16,605.47 L432.84,605.98 L432.51,606.49 L432.18,606.99 L431.85,607.5 L431.54,608 L431.26,608.51 L431,609.02 L430.77,609.52 L430.59,610.03 L430.44,610.53 L430.35,611.04 L430.3,611.54 L430.31,612.05 L430.36,612.56 L430.47,613.06 L430.62,613.57 L430.81,614.07 L431.04,614.58 L431.31,615.08 L431.6,615.59 L431.91,616.1 L432.24,616.6 L432.57,617.11 L432.9,617.61 L433.22,618.12 L433.53,618.63 L433.81,619.13 L434.06,619.64 L434.28,620.14 L434.45,620.65 L434.58,621.15 L434.67,621.66 L434.7,622.17 L434.68,622.67 L434.62,623.18 L434.5,623.68 L434.34,624.19 L434.14,624.7 L433.9,625.2 L433.62,625.71 L433.33,626.21 L433.01,626.72 L432.68,627.22 L432.35,627.73 L432.02,628.24 L431.7,628.74 L431.4,629.25 L431.13,629.75 L430.88,630.26 L430.68,630.77 L430.51,631.27 L430.39,631.78 L430.32,632.28 L430.3,632.79 L430.33,633.29 L430.41,633.8" stroke="#111" stroke-width="1" fill="none"/>
<path d="M440.3,633.8 V676 Q440.3,679 442.6,679 Q445,679 445,676 V633.8" stroke="#000" stroke-width="1.1" fill="none"/>
<path d="M458.5,590.8 L466.2,625.3 L495,625.3 L503.6,590.8" stroke="#1a1a1a" stroke-width="0.9" fill="none" stroke-dasharray="4.2,2.2"/>
<line x1="470.5" y1="590.8" x2="470.5" y2="625.3" stroke="#1a1a1a" stroke-width="0.9" fill="none" stroke-dasharray="4.2,2.2"/>
<line x1="491.5" y1="590.8" x2="491.5" y2="625.3" stroke="#1a1a1a" stroke-width="0.9" fill="none" stroke-dasharray="4.2,2.2"/>
<line x1="468.5" y1="625.3" x2="468.5" y2="640" stroke="#1a1a1a" stroke-width="0.9" fill="none" stroke-dasharray="4.2,2.2"/>
<line x1="494.5" y1="625.3" x2="494.5" y2="640" stroke="#1a1a1a" stroke-width="0.9" fill="none" stroke-dasharray="4.2,2.2"/>
<line x1="481.5" y1="582.6" x2="481.5" y2="645" stroke="#111" stroke-width="0.8" stroke-dasharray="14,2.5,4,2.5"/>
<text x="442.06" y="601" font-size="9.6" textLength="12.36" lengthAdjust="spacingAndGlyphs" fill="#000">50</text>
<line x1="466.5" y1="557.7" x2="466.5" y2="625" stroke="#222" stroke-width="0.8" fill="none"/>
<line x1="494.5" y1="557.7" x2="494.5" y2="625" stroke="#222" stroke-width="0.8" fill="none"/>
<line x1="466.2" y1="560.5" x2="511" y2="560.5" stroke="#222" stroke-width="0.8" fill="none"/>
<path d="M466.2,560.5 L474.7,557.9 L474.7,563.1Z" fill="#000"/>
<path d="M494.4,560.5 L485.9,563.1 L485.9,557.9Z" fill="#000"/>
<text x="512.03" y="564.5" font-size="9.18" textLength="46.7" lengthAdjust="spacingAndGlyphs" fill="#000">.180 (TYP)</text>
<line x1="509.3" y1="590.5" x2="535" y2="590.5" stroke="#222" stroke-width="0.8" fill="none"/>
<line x1="500" y1="640.5" x2="535" y2="640.5" stroke="#222" stroke-width="0.8" fill="none"/>
<line x1="529.5" y1="590.3" x2="529.5" y2="608" stroke="#222" stroke-width="0.8" fill="none"/>
<path d="M529.5,590.3 L532.1,598.8 L526.9,598.8Z" fill="#000"/>
<line x1="529.5" y1="621" x2="529.5" y2="640.1" stroke="#222" stroke-width="0.8" fill="none"/>
<path d="M529.5,640.1 L526.9,631.6 L532.1,631.6Z" fill="#000"/>
<text x="516.82" y="618.3" font-size="10.73" textLength="21.13" lengthAdjust="spacingAndGlyphs" fill="#000">.215</text>
<text x="456.5" y="661.7" font-size="10.14" textLength="57.22" lengthAdjust="spacingAndGlyphs" fill="#000">ALTERNATE</text>
<text x="456.01" y="672" font-size="10.58" textLength="81.82" lengthAdjust="spacingAndGlyphs" fill="#000">CONFIGURATION</text>
<line x1="71.5" y1="730.5" x2="157.2" y2="730.5" stroke="#000" stroke-width="1.1" fill="none"/>
<line x1="161.2" y1="730.5" x2="266.5" y2="730.5" stroke="#000" stroke-width="1.1" fill="none"/>
<line x1="270.5" y1="730.5" x2="355.1" y2="730.5" stroke="#000" stroke-width="1.1" fill="none"/>
<line x1="66.4" y1="777.5" x2="157.2" y2="777.5" stroke="#000" stroke-width="1.1" fill="none"/>
<line x1="161.2" y1="777.5" x2="266.5" y2="777.5" stroke="#000" stroke-width="1.1" fill="none"/>
<line x1="270.5" y1="777.5" x2="360.5" y2="777.5" stroke="#000" stroke-width="1.1" fill="none"/>
<path d="M71.5,730.3 L71.2,733.4 L69.8,734.7 L57.4,771.1 L59,773.2 L66,773.4 L66.4,777.3" stroke="#000" stroke-width="1.1" fill="none"/>
<path d="M355.1,730.3 L355.4,734 L356.3,734.6 L368.9,771.1 L367.5,773.2 L361.1,773.5 L360.5,777.3" stroke="#000" stroke-width="1.1" fill="none"/>
<path d="M155.94,730.3 L156.28,730.8 L156.65,731.3 L157.04,731.8 L157.44,732.3 L157.82,732.8 L158.19,733.3 L158.52,733.8 L158.82,734.3 L159.06,734.8 L159.24,735.3 L159.35,735.8 L159.4,736.3 L159.37,736.8 L159.28,737.3 L159.12,737.8 L158.9,738.3 L158.62,738.8 L158.29,739.3 L157.94,739.8 L157.55,740.3 L157.16,740.8 L156.77,741.3 L156.39,741.8 L156.04,742.3 L155.72,742.8 L155.46,743.3 L155.24,743.8 L155.1,744.3 L155.01,744.8 L155,745.3 L155.06,745.8 L155.19,746.3 L155.39,746.8 L155.64,747.3 L155.94,747.8 L156.28,748.3 L156.65,748.8 L157.04,749.3 L157.44,749.8 L157.82,750.3 L158.19,750.8 L158.52,751.3 L158.82,751.8 L159.06,752.3 L159.24,752.8 L159.35,753.3 L159.4,753.8 L159.37,754.3 L159.28,754.8 L159.12,755.3 L158.9,755.8 L158.62,756.3 L158.29,756.8 L157.94,757.3 L157.55,757.8 L157.16,758.3 L156.77,758.8 L156.39,759.3 L156.04,759.8 L155.72,760.3 L155.46,760.8 L155.24,761.3 L155.1,761.8 L155.01,762.3 L155,762.8 L155.06,763.3 L155.19,763.8 L155.39,764.3 L155.64,764.8 L155.94,765.3 L156.28,765.8 L156.65,766.3 L157.04,766.8 L157.44,767.3 L157.82,767.8 L158.19,768.3 L158.52,768.8 L158.82,769.3 L159.06,769.8 L159.24,770.3 L159.35,770.8 L159.4,771.3 L159.37,771.8 L159.28,772.3 L159.12,772.8 L158.9,773.3 L158.62,773.8 L158.29,774.3 L157.94,774.8 L157.55,775.3 L157.16,775.8 L156.77,776.3 L156.39,776.8 L156.04,777.3" stroke="#1a1a1a" stroke-width="0.95" fill="none"/>
<path d="M159.94,730.3 L160.28,730.8 L160.65,731.3 L161.04,731.8 L161.44,732.3 L161.82,732.8 L162.19,733.3 L162.52,733.8 L162.82,734.3 L163.06,734.8 L163.24,735.3 L163.35,735.8 L163.4,736.3 L163.37,736.8 L163.28,737.3 L163.12,737.8 L162.9,738.3 L162.62,738.8 L162.29,739.3 L161.94,739.8 L161.55,740.3 L161.16,740.8 L160.77,741.3 L160.39,741.8 L160.04,742.3 L159.72,742.8 L159.46,743.3 L159.24,743.8 L159.1,744.3 L159.01,744.8 L159,745.3 L159.06,745.8 L159.19,746.3 L159.39,746.8 L159.64,747.3 L159.94,747.8 L160.28,748.3 L160.65,748.8 L161.04,749.3 L161.44,749.8 L161.82,750.3 L162.19,750.8 L162.52,751.3 L162.82,751.8 L163.06,752.3 L163.24,752.8 L163.35,753.3 L163.4,753.8 L163.37,754.3 L163.28,754.8 L163.12,755.3 L162.9,755.8 L162.62,756.3 L162.29,756.8 L161.94,757.3 L161.55,757.8 L161.16,758.3 L160.77,758.8 L160.39,759.3 L160.04,759.8 L159.72,760.3 L159.46,760.8 L159.24,761.3 L159.1,761.8 L159.01,762.3 L159,762.8 L159.06,763.3 L159.19,763.8 L159.39,764.3 L159.64,764.8 L159.94,765.3 L160.28,765.8 L160.65,766.3 L161.04,766.8 L161.44,767.3 L161.82,767.8 L162.19,768.3 L162.52,768.8 L162.82,769.3 L163.06,769.8 L163.24,770.3 L163.35,770.8 L163.4,771.3 L163.37,771.8 L163.28,772.3 L163.12,772.8 L162.9,773.3 L162.62,773.8 L162.29,774.3 L161.94,774.8 L161.55,775.3 L161.16,775.8 L160.77,776.3 L160.39,776.8 L160.04,777.3" stroke="#1a1a1a" stroke-width="0.95" fill="none"/>
<path d="M265.24,730.3 L265.58,730.8 L265.95,731.3 L266.34,731.8 L266.74,732.3 L267.12,732.8 L267.49,733.3 L267.82,733.8 L268.12,734.3 L268.36,734.8 L268.54,735.3 L268.65,735.8 L268.7,736.3 L268.67,736.8 L268.58,737.3 L268.42,737.8 L268.2,738.3 L267.92,738.8 L267.59,739.3 L267.24,739.8 L266.85,740.3 L266.46,740.8 L266.07,741.3 L265.69,741.8 L265.34,742.3 L265.02,742.8 L264.76,743.3 L264.54,743.8 L264.4,744.3 L264.31,744.8 L264.3,745.3 L264.36,745.8 L264.49,746.3 L264.69,746.8 L264.94,747.3 L265.24,747.8 L265.58,748.3 L265.95,748.8 L266.34,749.3 L266.74,749.8 L267.12,750.3 L267.49,750.8 L267.82,751.3 L268.12,751.8 L268.36,752.3 L268.54,752.8 L268.65,753.3 L268.7,753.8 L268.67,754.3 L268.58,754.8 L268.42,755.3 L268.2,755.8 L267.92,756.3 L267.59,756.8 L267.24,757.3 L266.85,757.8 L266.46,758.3 L266.07,758.8 L265.69,759.3 L265.34,759.8 L265.02,760.3 L264.76,760.8 L264.54,761.3 L264.4,761.8 L264.31,762.3 L264.3,762.8 L264.36,763.3 L264.49,763.8 L264.69,764.3 L264.94,764.8 L265.24,765.3 L265.58,765.8 L265.95,766.3 L266.34,766.8 L266.74,767.3 L267.12,767.8 L267.49,768.3 L267.82,768.8 L268.12,769.3 L268.36,769.8 L268.54,770.3 L268.65,770.8 L268.7,771.3 L268.67,771.8 L268.58,772.3 L268.42,772.8 L268.2,773.3 L267.92,773.8 L267.59,774.3 L267.24,774.8 L266.85,775.3 L266.46,775.8 L266.07,776.3 L265.69,776.8 L265.34,777.3" stroke="#1a1a1a" stroke-width="0.95" fill="none"/>
<path d="M269.24,730.3 L269.58,730.8 L269.95,731.3 L270.34,731.8 L270.74,732.3 L271.12,732.8 L271.49,733.3 L271.82,733.8 L272.12,734.3 L272.36,734.8 L272.54,735.3 L272.65,735.8 L272.7,736.3 L272.67,736.8 L272.58,737.3 L272.42,737.8 L272.2,738.3 L271.92,738.8 L271.59,739.3 L271.24,739.8 L270.85,740.3 L270.46,740.8 L270.07,741.3 L269.69,741.8 L269.34,742.3 L269.02,742.8 L268.76,743.3 L268.54,743.8 L268.4,744.3 L268.31,744.8 L268.3,745.3 L268.36,745.8 L268.49,746.3 L268.69,746.8 L268.94,747.3 L269.24,747.8 L269.58,748.3 L269.95,748.8 L270.34,749.3 L270.74,749.8 L271.12,750.3 L271.49,750.8 L271.82,751.3 L272.12,751.8 L272.36,752.3 L272.54,752.8 L272.65,753.3 L272.7,753.8 L272.67,754.3 L272.58,754.8 L272.42,755.3 L272.2,755.8 L271.92,756.3 L271.59,756.8 L271.24,757.3 L270.85,757.8 L270.46,758.3 L270.07,758.8 L269.69,759.3 L269.34,759.8 L269.02,760.3 L268.76,760.8 L268.54,761.3 L268.4,761.8 L268.31,762.3 L268.3,762.8 L268.36,763.3 L268.49,763.8 L268.69,764.3 L268.94,764.8 L269.24,765.3 L269.58,765.8 L269.95,766.3 L270.34,766.8 L270.74,767.3 L271.12,767.8 L271.49,768.3 L271.82,768.8 L272.12,769.3 L272.36,769.8 L272.54,770.3 L272.65,770.8 L272.7,771.3 L272.67,771.8 L272.58,772.3 L272.42,772.8 L272.2,773.3 L271.92,773.8 L271.59,774.3 L271.24,774.8 L270.85,775.3 L270.46,775.8 L270.07,776.3 L269.69,776.8 L269.34,777.3" stroke="#1a1a1a" stroke-width="0.95" fill="none"/>
<circle cx="85.2" cy="754.2" r="10.2" stroke="#000" stroke-width="1.1" fill="none"/>
<line x1="69.2" y1="754.5" x2="78.2" y2="754.5" stroke="#111" stroke-width="0.9"/>
<line x1="82" y1="754.5" x2="88.4" y2="754.5" stroke="#111" stroke-width="0.9"/>
<line x1="92.2" y1="754.5" x2="101.2" y2="754.5" stroke="#111" stroke-width="0.9"/>
<line x1="85.5" y1="738.2" x2="85.5" y2="747.7" stroke="#111" stroke-width="0.9"/>
<line x1="85.5" y1="751" x2="85.5" y2="757.4" stroke="#111" stroke-width="0.9"/>
<line x1="85.5" y1="760.7" x2="85.5" y2="770.2" stroke="#111" stroke-width="0.9"/>
<circle cx="341.7" cy="754.2" r="10.2" stroke="#000" stroke-width="1.1" fill="none"/>
<line x1="325.7" y1="754.5" x2="334.7" y2="754.5" stroke="#111" stroke-width="0.9"/>
<line x1="338.5" y1="754.5" x2="344.9" y2="754.5" stroke="#111" stroke-width="0.9"/>
<line x1="348.7" y1="754.5" x2="357.7" y2="754.5" stroke="#111" stroke-width="0.9"/>
<line x1="341.5" y1="738.2" x2="341.5" y2="747.7" stroke="#111" stroke-width="0.9"/>
<line x1="341.5" y1="751" x2="341.5" y2="757.4" stroke="#111" stroke-width="0.9"/>
<line x1="341.5" y1="760.7" x2="341.5" y2="770.2" stroke="#111" stroke-width="0.9"/>
<circle cx="121" cy="740.9" r="0.95" fill="#111"/>
<circle cx="127.26" cy="740.9" r="0.95" fill="#111"/>
<circle cx="133.52" cy="740.9" r="0.95" fill="#111"/>
<circle cx="139.78" cy="740.9" r="0.95" fill="#111"/>
<circle cx="146.04" cy="740.9" r="0.95" fill="#111"/>
<circle cx="152.3" cy="740.9" r="0.95" fill="#111"/>
<circle cx="166.9" cy="740.9" r="0.95" fill="#111"/>
<circle cx="173.14" cy="740.9" r="0.95" fill="#111"/>
<circle cx="179.38" cy="740.9" r="0.95" fill="#111"/>
<circle cx="185.62" cy="740.9" r="0.95" fill="#111"/>
<circle cx="191.86" cy="740.9" r="0.95" fill="#111"/>
<circle cx="198.1" cy="740.9" r="0.95" fill="#111"/>
<circle cx="204.34" cy="740.9" r="0.95" fill="#111"/>
<circle cx="210.58" cy="740.9" r="0.95" fill="#111"/>
<circle cx="216.82" cy="740.9" r="0.95" fill="#111"/>
<circle cx="223.06" cy="740.9" r="0.95" fill="#111"/>
<circle cx="229.3" cy="740.9" r="0.95" fill="#111"/>
<circle cx="235.54" cy="740.9" r="0.95" fill="#111"/>
<circle cx="241.78" cy="740.9" r="0.95" fill="#111"/>
<circle cx="248.02" cy="740.9" r="0.95" fill="#111"/>
<circle cx="254.26" cy="740.9" r="0.95" fill="#111"/>
<circle cx="260.5" cy="740.9" r="0.95" fill="#111"/>
<circle cx="274.9" cy="740.9" r="0.95" fill="#111"/>
<circle cx="281.1" cy="740.9" r="0.95" fill="#111"/>
<circle cx="287.3" cy="740.9" r="0.95" fill="#111"/>
<circle cx="293.5" cy="740.9" r="0.95" fill="#111"/>
<circle cx="299.7" cy="740.9" r="0.95" fill="#111"/>
<circle cx="305.9" cy="740.9" r="0.95" fill="#111"/>
<circle cx="121" cy="766.9" r="0.95" fill="#111"/>
<circle cx="127.26" cy="766.9" r="0.95" fill="#111"/>
<circle cx="133.52" cy="766.9" r="0.95" fill="#111"/>
<circle cx="139.78" cy="766.9" r="0.95" fill="#111"/>
<circle cx="146.04" cy="766.9" r="0.95" fill="#111"/>
<circle cx="152.3" cy="766.9" r="0.95" fill="#111"/>
<circle cx="166.9" cy="766.9" r="0.95" fill="#111"/>
<circle cx="173.14" cy="766.9" r="0.95" fill="#111"/>
<circle cx="179.38" cy="766.9" r="0.95" fill="#111"/>
<circle cx="185.62" cy="766.9" r="0.95" fill="#111"/>
<circle cx="191.86" cy="766.9" r="0.95" fill="#111"/>
<circle cx="198.1" cy="766.9" r="0.95" fill="#111"/>
<circle cx="204.34" cy="766.9" r="0.95" fill="#111"/>
<circle cx="210.58" cy="766.9" r="0.95" fill="#111"/>
<circle cx="216.82" cy="766.9" r="0.95" fill="#111"/>
<circle cx="223.06" cy="766.9" r="0.95" fill="#111"/>
<circle cx="229.3" cy="766.9" r="0.95" fill="#111"/>
<circle cx="235.54" cy="766.9" r="0.95" fill="#111"/>
<circle cx="241.78" cy="766.9" r="0.95" fill="#111"/>
<circle cx="248.02" cy="766.9" r="0.95" fill="#111"/>
<circle cx="254.26" cy="766.9" r="0.95" fill="#111"/>
<circle cx="260.5" cy="766.9" r="0.95" fill="#111"/>
<circle cx="274.9" cy="766.9" r="0.95" fill="#111"/>
<circle cx="281.1" cy="766.9" r="0.95" fill="#111"/>
<circle cx="287.3" cy="766.9" r="0.95" fill="#111"/>
<circle cx="293.5" cy="766.9" r="0.95" fill="#111"/>
<circle cx="299.7" cy="766.9" r="0.95" fill="#111"/>
<circle cx="305.9" cy="766.9" r="0.95" fill="#111"/>
<rect x="106.5" y="736.5" width="4" height="7" stroke="#111" stroke-width="0.9" fill="none"/>
<line x1="106.2" y1="738.5" x2="110.5" y2="738.5" stroke="#111" stroke-width="0.7"/>
<rect x="112.5" y="738.5" width="5" height="7" stroke="#111" stroke-width="0.9" fill="none"/>
<line x1="112.3" y1="743.5" x2="117.6" y2="743.5" stroke="#111" stroke-width="0.7"/>
<rect x="106.5" y="762.5" width="4" height="7" stroke="#111" stroke-width="0.9" fill="none"/>
<line x1="106.2" y1="764.5" x2="110.5" y2="764.5" stroke="#111" stroke-width="0.7"/>
<rect x="112.5" y="764.5" width="5" height="7" stroke="#111" stroke-width="0.9" fill="none"/>
<line x1="112.3" y1="769.5" x2="117.6" y2="769.5" stroke="#111" stroke-width="0.7"/>
<rect x="309.5" y="736.5" width="4" height="7" stroke="#111" stroke-width="0.9" fill="none"/>
<line x1="309.6" y1="738.5" x2="313.9" y2="738.5" stroke="#111" stroke-width="0.7"/>
<rect x="315.5" y="738.5" width="6" height="7" stroke="#111" stroke-width="0.9" fill="none"/>
<line x1="315.7" y1="743.5" x2="321" y2="743.5" stroke="#111" stroke-width="0.7"/>
<rect x="309.5" y="762.5" width="4" height="7" stroke="#111" stroke-width="0.9" fill="none"/>
<line x1="309.6" y1="764.5" x2="313.9" y2="764.5" stroke="#111" stroke-width="0.7"/>
<rect x="315.5" y="764.5" width="6" height="7" stroke="#111" stroke-width="0.9" fill="none"/>
<line x1="315.7" y1="769.5" x2="321" y2="769.5" stroke="#111" stroke-width="0.7"/>
<line x1="57.5" y1="776" x2="57.5" y2="811" stroke="#222" stroke-width="0.8" fill="none"/>
<line x1="369.5" y1="775.9" x2="369.5" y2="810.7" stroke="#222" stroke-width="0.8" fill="none"/>
<line x1="57.4" y1="807.5" x2="205.2" y2="807.5" stroke="#222" stroke-width="0.8" fill="none"/>
<path d="M57.4,807.5 L65.9,804.9 L65.9,810.1Z" fill="#000"/>
<line x1="220.6" y1="807.5" x2="369.1" y2="807.5" stroke="#222" stroke-width="0.8" fill="none"/>
<path d="M369.1,807.5 L360.6,810.1 L360.6,804.9Z" fill="#000"/>
<text x="209.13" y="810.7" font-size="9.86" textLength="7.87" lengthAdjust="spacingAndGlyphs" fill="#000">N</text>
</svg>
</body></html>
